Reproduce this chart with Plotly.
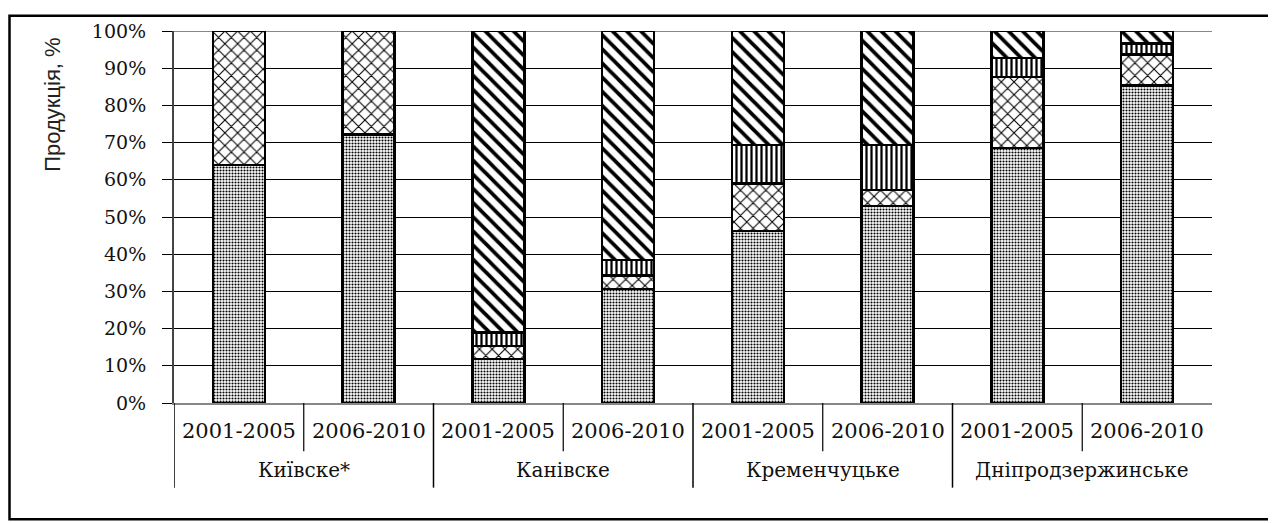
import plotly.graph_objects as go

# ---- data ----
groups = ["Київске*", "Канівске", "Кременчуцьке", "Дніпродзержинське"]
periods = ["2001-2005", "2006-2010"]
categories = [(g, p) for g in groups for p in periods]

series_dotted = [64.0, 72.2, 11.8, 30.6, 46.2, 53.0, 68.5, 85.4]
series_cross = [36.0, 27.8, 3.5, 3.7, 12.8, 4.2, 19.1, 8.3]
series_vert = [0.0, 0.0, 3.6, 4.2, 10.3, 12.1, 5.1, 3.0]
series_diag = [0.0, 0.0, 81.1, 61.5, 30.7, 30.7, 7.3, 3.3]

y_ticks = list(range(0, 101, 10))
y_ticktext = [f"{v}%" for v in y_ticks]
y_title = "Продукція, %"

# ---- figure ----
xpos = list(range(len(categories)))

def pat(shape, size, solidity):
    return dict(shape=shape, fgcolor="black", bgcolor="white",
                size=size, solidity=solidity, fillmode="replace")

traces = [
    (series_dotted, pat(".", 3, 0.38)),
    (series_cross, pat("x", 9, 0.22)),
    (series_vert, pat("|", 5, 0.45)),
    (series_diag, pat("\\", 10, 0.38)),
]

fig = go.Figure()
for vals, p in traces:
    fig.add_trace(go.Bar(
        x=xpos, y=vals, width=0.4,
        marker=dict(color="white", pattern=p,
                    line=dict(color="black", width=2.5)),
        showlegend=False, hoverinfo="skip"))

OFF = 8  # page body margin
W, H = 1276 - OFF, 523 - OFF
PL, PR, PT, PB = 174 - OFF, 1212 - OFF, 25 - OFF, 403 - OFF
pw, ph = PR - PL, PB - PT

def px_x(x):
    return (x - OFF - PL) / pw

def px_y(y):
    return (PB - (y - OFF)) / ph

serif = "DejaVu Serif"

shapes = []
shapes.append(dict(type="line", xref="paper", yref="y", x0=0, x1=1, y0=100, y1=100,
                   line=dict(color="#888888", width=2), layer="between"))
for i in range(len(categories)):
    xb = i - 0.5
    long = (i % 2 == 0)
    shapes.append(dict(type="line", xref="x", yref="paper", x0=xb, x1=xb,
                       y0=0, y1=px_y(489 if long else 452),
                       line=dict(color="black", width=1.5 if long else 1.2)))
# outer frame
shapes.append(dict(type="rect", xref="paper", yref="paper",
                   x0=px_x(OFF + 1.5), x1=px_x(1272), y0=px_y(521), y1=px_y(OFF + 1.5),
                   line=dict(color="black", width=2.5), layer="above"))

annotations = []
for i, (g, p) in enumerate(categories):
    annotations.append(dict(x=i, y=px_y(431), xref="x", yref="paper", text=p,
                            showarrow=False, xanchor="center", yanchor="middle",
                            font=dict(family=serif, size=21, color="#111111")))
for j, g in enumerate(groups):
    annotations.append(dict(x=2 * j + 0.5, y=px_y(471), xref="x", yref="paper", text=g,
                            showarrow=False, xanchor="center", yanchor="middle",
                            font=dict(family=serif, size=20, color="#111111")))
annotations.append(dict(x=px_x(53), y=px_y(100), xref="paper", yref="paper",
                        text=y_title, textangle=-90, showarrow=False,
                        xanchor="center", yanchor="middle",
                        font=dict(family="Liberation Sans", size=22, color="#222222")))

fig.update_layout(
    width=W, height=H,
    margin=dict(l=PL, r=W - PR, t=PT, b=H - PB, pad=0),
    barmode="stack",
    plot_bgcolor="white", paper_bgcolor="white",
    shapes=shapes, annotations=annotations,
    xaxis=dict(range=[-0.5, len(categories) - 0.5], showticklabels=False,
               showgrid=False, zeroline=False, ticks="",
               showline=True, linecolor="#888888", linewidth=2),
    yaxis=dict(range=[0, 100], tickvals=y_ticks, ticktext=y_ticktext,
               showgrid=True, gridcolor="black", gridwidth=1.3,
               zeroline=False, showline=True, linecolor="#444444", linewidth=2,
               ticks="outside", ticklen=10, tickcolor="black", tickwidth=1.3,
               ticklabelstandoff=12,
               tickfont=dict(family=serif, size=19, color="#111111")),
)

fig.write_html("out.html")
